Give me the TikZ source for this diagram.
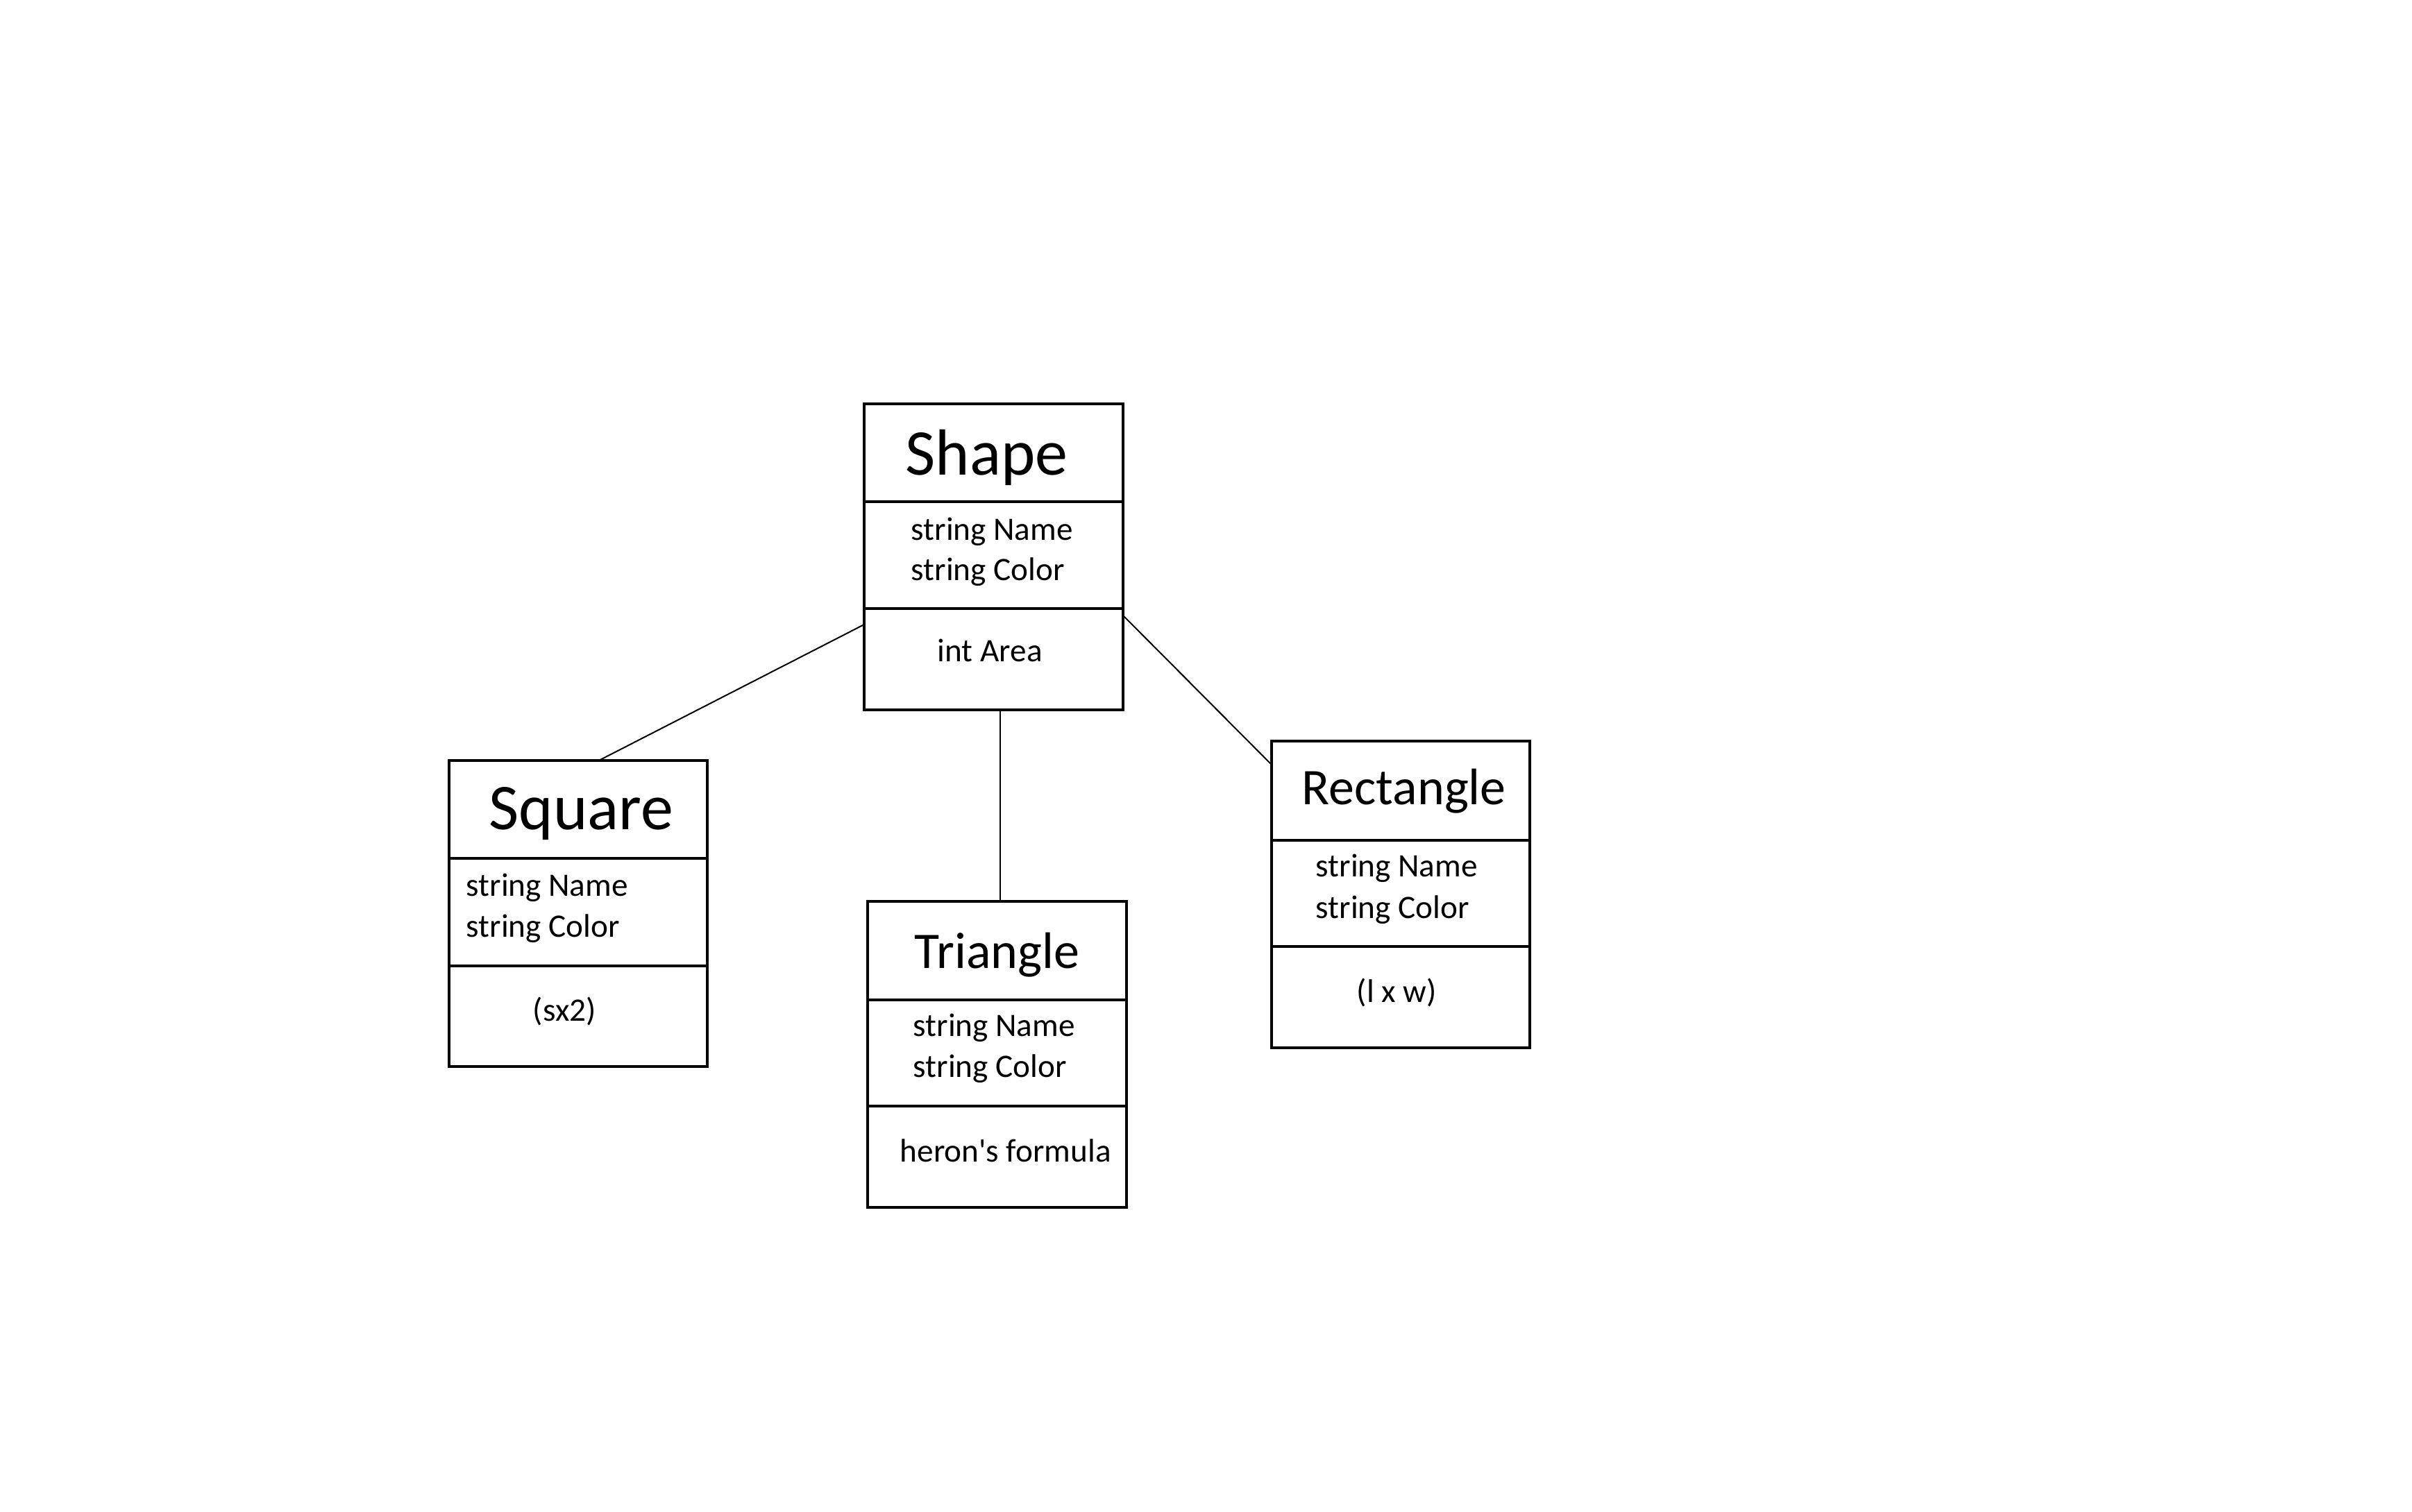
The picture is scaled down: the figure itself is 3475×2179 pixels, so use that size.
\documentclass[tikz,border=0pt]{standalone}
\usepackage{fontspec}
\setmainfont{Carlito}
\usetikzlibrary{fit,calc}
\begin{document}
\begin{tikzpicture}[x=0.25pt,y=-0.25pt,
 comp/.style={draw,line width=0.875pt,inner sep=0pt,outer sep=0pt},
 link/.style={draw,line width=0.5pt},
 txt/.style={anchor=base west,inner sep=0pt,font=\fontsize{11.8}{14}\selectfont},
 ttl/.style={anchor=base west,inner sep=0pt,font=\fontsize{23.5}{28}\selectfont},
 ttlsmall/.style={anchor=base west,inner sep=0pt,font=\fontsize{18.5}{22}\selectfont}]
\useasboundingbox[fill=white] (0,0) rectangle (3475,2179);

% Shape
\node[comp,fit={(1245,582) (1618,723)}] (sht) {};
\node[comp,fit={(1245,723) (1618,877)}] (sha) {};
\node[comp,fit={(1245,877) (1618,1023)}] (shm) {};
\node[ttl] (shtt) at (1304,685) {Shape};
\node[txt] (sha1) at (1312,779) {string Name};
\node[txt] (sha2) at (1312,837) {string Color};
\node[txt] (shm1) at (1350,954) {int Area};

% Square
\node[comp,fit={(647,1096) (1019,1237)}] (sqt) {};
\node[comp,fit={(647,1237) (1019,1392)}] (sqa) {};
\node[comp,fit={(647,1392) (1019,1537)}] (sqm) {};
\node[ttl] (sqtt) at (704,1195) {Square};
\node[txt] (sqa1) at (671,1291) {string Name};
\node[txt] (sqa2) at (671,1350) {string Color};
\node[txt] (sqm1) at (767,1471) {(sx2)};

% Triangle
\node[comp,fit={(1250,1299) (1623,1441)}] (trt) {};
\node[comp,fit={(1250,1441) (1623,1594)}] (tra) {};
\node[comp,fit={(1250,1594) (1623,1740)}] (trm) {};
\node[ttlsmall] (trtt) at (1317,1395) {Triangle};
\node[txt] (tra1) at (1315,1493) {string Name};
\node[txt] (tra2) at (1315,1552) {string Color};
\node[txt] (trm1) at (1296,1674) {heron\textquotesingle s formula};

% Rectangle
\node[comp,fit={(1832,1068) (2204,1211)}] (rct) {};
\node[comp,fit={(1832,1211) (2204,1364)}] (rca) {};
\node[comp,fit={(1832,1364) (2204,1510)}] (rcm) {};
\node[ttlsmall] (rctt) at (1875,1160) {Rectangle};
\node[txt] (rca1) at (1895,1263) {string Name};
\node[txt] (rca2) at (1895,1323) {string Color};
\node[txt] (rcm1) at (1954,1444) {(l x w)};

% connectors
\draw[link] ($(sqt.north west)!0.58!(sqt.north east)$) -- ($(shm.north west)+(0,23)$);
\draw[link] ($(shm.south west)!0.526!(shm.south east)$) coordinate (tb) -- (tb |- trt.north);
\draw[link] ($(shm.north east)+(0,10)$) -- ($(rct.north west)+(0,34)$);
\end{tikzpicture}
\end{document}
